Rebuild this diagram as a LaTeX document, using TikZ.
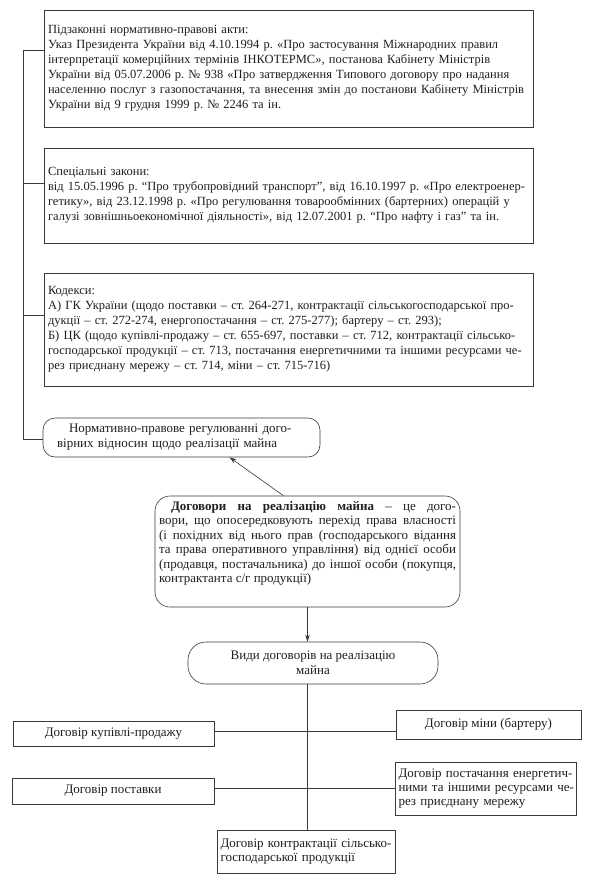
\documentclass[tikz,border=0pt]{standalone}
\usepackage{fontspec}
\setmainfont{Liberation Serif}
\usetikzlibrary{arrows.meta,calc}
\definecolor{ink}{HTML}{1F1F1F}
\definecolor{lc}{HTML}{3A3A3A}
\newcommand{\J}[1]{\makebox[\linewidth][s]{#1}\\}
\frenchspacing
\begin{document}
\begin{tikzpicture}[x=1pt,y=-1pt,
  box/.style={draw=lc, line width=0.6pt, inner sep=0pt, text=ink, align=left},
  big/.style={box, minimum width=489pt, text width=481pt, font=\fontsize{12.5}{15}\selectfont},
  rbox/.style={box, rounded corners=#1},
  rbox/.default=12pt,
  sq/.style={box, font=\fontsize{13}{14}\selectfont},
  arr/.style={-{Stealth[length=7pt,width=4.5pt]}, draw=lc, line width=0.6pt},
  ln/.style={draw=lc, line width=0.6pt}
]
\useasboundingbox[fill=white] (0,0) rectangle (591,884);

% top boxes
\node[big, minimum height=117pt] (b1) at (288.5,68.5) {Підзаконні нормативно-правові акти:\\
\J{Указ Президента України від 4.10.1994 р. «Про застосування Міжнародних правил}
\J{інтерпретації комерційних термінів ІНКОТЕРМС», постанова Кабінету Міністрів}
\J{України від 05.07.2006 р. № 938 «Про затвердження Типового договору про надання}
\J{населенню послуг з газопостачання, та внесення змін до постанови Кабінету Міністрів}
України від 9 грудня 1999 р. № 2246 та ін.};

\node[big, minimum height=95pt] (b2) at (288.5,195.5) {Спеціальні закони:\\
\J{від 15.05.1996 р. “Про трубопровідний транспорт”, від 16.10.1997 р. «Про електроенер-}
\J{гетику», від 23.12.1998 р. «Про регулювання товарообмінних (бартерних) операцій у}
галузі зовнішньоекономічної діяльності», від 12.07.2001 р. “Про нафту і газ” та ін.};

\node[big, minimum height=113pt] (b3) at (288.5,329.5) {Кодекси:\\
\J{А) ГК України (щодо поставки – ст. 264-271, контрактації сільськогосподарської про-}
дукції – ст. 272-274, енергопостачання – ст. 275-277); бартеру – ст. 293);\\
\J{Б) ЦК (щодо купівлі-продажу – ст. 655-697, поставки – ст. 712, контрактації сільсько-}
\J{господарської продукції – ст. 713, постачання енергетичними та іншими ресурсами че-}
рез приєднану мережу – ст. 714, міни – ст. 715-716)};

% middle rounded boxes
\node[rbox=12pt, minimum width=277pt, minimum height=39pt, text width=249pt,
      font=\fontsize{13}{15}\selectfont] (norm) at (181.5,437.5)
  {\J{\hspace*{12pt}Нормативно-правове регулюванні дого-}вірних відносин щодо реалізації майна};

\node[rbox=15pt, minimum width=305pt, minimum height=111pt,
      font=\fontsize{13}{14.5}\selectfont] (dog) at (307.5,551.5)
  {\parbox[c][101pt][t]{297pt}{%
  \J{\hspace*{12pt}\textbf{Договори на реалізацію майна} – це дого-}
  \J{вори, що опосередковують перехід права власності}
  \J{(і похідних від нього прав (господарського відання}
  \J{та права оперативного управління) від однієї особи}
  \J{(продавця, постачальника) до іншої особи (покупця,}
  контрактанта с/г продукції)}};

\node[rbox=18pt, minimum width=250pt, minimum height=42pt, align=center,
      font=\fontsize{13}{15}\selectfont] (vid) at (313,663)
  {Види договорів на реалізацію\\майна};

% bottom boxes
\node[sq, minimum width=201pt, minimum height=25pt, align=center] (kup) at (113.5,733.5) {Договір купівлі-продажу};
\node[sq, minimum width=185pt, minimum height=29pt, align=center] (min) at (488.5,724.5) {Договір міни (бартеру)};
\node[sq, minimum width=202pt, minimum height=26pt, align=center] (pos) at (113,791) {Договір поставки};
\node[sq, minimum width=181pt, minimum height=53pt, text width=174pt] (pen) at (485.5,788.5)
  {\J{Договір постачання енергетич-}\J{ними та іншими ресурсами че-}рез приєднану мережу};
\node[sq, minimum width=178pt, minimum height=43pt, text width=171pt] (con) at (306,851.5)
  {\J{Договір контрактації сільсько-}господарської продукції};

% left spine
\coordinate (sp1) at (23,50);
\coordinate (sp2) at (23,183);
\coordinate (sp3) at (23,315);
\coordinate (sp4) at (23,439);
\draw[ln] (b1.west |- sp1) -- (sp1) -- (sp4) -- (norm.west |- sp4);
\draw[ln] (sp2) -- (b2.west |- sp2);
\draw[ln] (sp3) -- (b3.west |- sp3);

% arrows
\draw[arr] ($(dog.north)+(-24,0)$) -- ($(norm.south)+(48,0)$);
\draw[arr] (dog.south) -- (vid.north -| dog.south);
\draw[ln] (vid.south -| dog.south) -- (con.north -| dog.south);

% horizontal connectors
\coordinate (h1) at (0,731);
\coordinate (h2) at (0,788);
\draw[ln] (kup.east |- h1) -- (min.west |- h1);
\draw[ln] (pos.east |- h2) -- (pen.west |- h2);
\end{tikzpicture}
\end{document}
